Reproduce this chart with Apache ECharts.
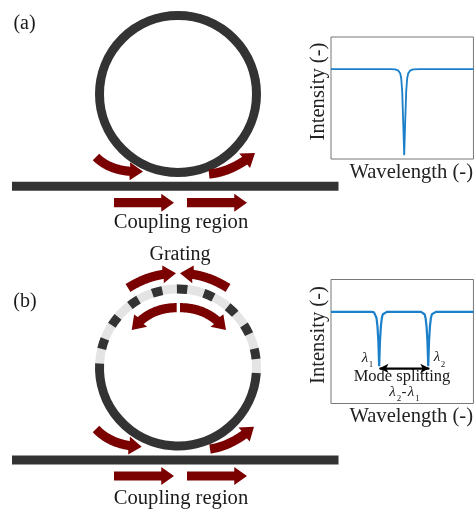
<!DOCTYPE html>
<html><head><meta charset="utf-8">
<style>html,body{margin:0;padding:0;background:#fff;overflow:hidden}#c{width:475px;height:509px}</style>
<script src="https://cdn.jsdelivr.net/npm/echarts@6/dist/echarts.min.js"></script>
</head><body><div id="c"></div>
<script>
const spectrumA = [[0,.736],[60,.736],[65,.735],[68,.725],[70,.70],[71,.66],[72,.55],[73,.30],[74,.03],[75,.30],[76,.55],[77,.66],[78,.70],[80,.725],[83,.735],[90,.736],[144,.736]];
const spectrumB = [[0,.739],[41,.739],[43.5,.735],[45,.72],[46,.69],[47,.62],[47.9,.5],[48.7,.30],[49.5,.5],[50.4,.62],[51.4,.69],[52.4,.72],[54,.735],[56.5,.739],[91,.739],[93,.735],[94.6,.72],[95.6,.69],[96.6,.62],[97.5,.5],[98.3,.30],[99.1,.5],[100,.62],[101,.69],[102,.72],[103.6,.735],[106,.739],[144,.739]];
const waveguides = [[12,338.5,186.2],[12,338.5,460]];
const rings = [
 [178,94,78.5,0,360,0],
 [178,367.5,78.5,183,364,1],
 [178,367.5,78.5,4,183,0],
 [178,367.5,78.5,346.2,353.8,0],[178,367.5,78.5,327.2,334.8,0],[178,367.5,78.5,309.2,316.8,0],
 [178,367.5,78.5,289.2,296.8,0],[178,367.5,78.5,269.2,276.8,0],[178,367.5,78.5,250.9,258.5,0],
 [178,367.5,78.5,232.2,239.8,0],[178,367.5,78.5,212.6,220.2,0],[178,367.5,78.5,193.7,201.3,0]
];
const arrows = [
 [96,157,112,173,143,171.5],[209,174,232,172,255,153],
 [114,202.7,144,202.7,174,202.7],[187,202.7,217,202.7,247,202.7],
 [96,429,112,446,141.7,446.7],[210,449,232,446,254,426.7],
 [114,476,144,476,174,476],[187,476,217,476,247,476],
 [128,288,151,273.4,176,273.3],[228,288,205,273.4,180,273.3],
 [176.7,307.7,149.4,307.5,131.7,330],[180,307.7,208,307.5,226,330]
];
const splitArrow = [[379.5,368.3],[429.3,368.3]];
const labelPos = [[24.5,24],[25,301.5],[181,222.5],[181,498.5],[180,255],[402,377],
 [365,358],[371,364.5],[437,357.5],[443,364.5],[392.5,392.5],[399,398.5],[404,392.5],[411,392.5],[417.5,398.5]];
const labelText = ['(a)','(b)','Coupling region','Coupling region','Grating','Mode splitting',
 'λ','1','λ','2','λ','2','-','λ','1'];
const labelSize = [20,20,20.6,20.6,20,16.5,15,9,15,9,15,9,15,15,9];
const labelItalic = [0,0,0,0,0,0,1,0,1,0,1,0,0,1,0];
const axisNameX = 'Wavelength (-)', axisNameY = 'Intensity (-)';
const SERIF = '"Liberation Serif","Times New Roman",serif';
const DARK='#333333', LIGHT='#e4e4e4', RED='#7b0000', BLUE='#1b7fc9', FRAME='#777777';
function arrowItem(p, api){
  const [x0,y0]=api.coord([api.value(0),api.value(1)]);
  const [cx,cy]=api.coord([api.value(2),api.value(3)]);
  const [x1,y1]=api.coord([api.value(4),api.value(5)]);
  const shaft=4.6, headLen=12.5, headW=9, pts=[];
  for(let i=0;i<=80;i++){
    const t=i/80,u=1-t;
    const x=u*u*x0+2*u*t*cx+t*t*x1, y=u*u*y0+2*u*t*cy+t*t*y1;
    if(Math.hypot(x-x1,y-y1)<headLen)break;
    pts.push([x,y]);
  }
  const L=[],R=[];
  pts.forEach((q,i)=>{
    const a=pts[Math.max(i-1,0)],b=pts[Math.min(i+1,pts.length-1)];
    const dx=b[0]-a[0],dy=b[1]-a[1],d=Math.hypot(dx,dy)||1;
    const nx=-dy/d,ny=dx/d;
    L.push([q[0]+nx*shaft,q[1]+ny*shaft]);R.push([q[0]-nx*shaft,q[1]-ny*shaft]);
  });
  const b=pts[pts.length-1],dx=x1-b[0],dy=y1-b[1],d=Math.hypot(dx,dy)||1,nx=-dy/d,ny=dx/d;
  const poly=L.concat([[b[0]+nx*headW,b[1]+ny*headW],[x1,y1],[b[0]-nx*headW,b[1]-ny*headW]],R.reverse());
  return {type:'polygon',shape:{points:poly},style:{fill:RED}};
}
function ringItem(p, api){
  const c=api.coord([api.value(0),api.value(1)]);
  const r=api.size([api.value(2),0])[0];
  const s=api.value(3)*Math.PI/180,e=api.value(4)*Math.PI/180;
  return {type:'arc',shape:{cx:c[0],cy:c[1],r:r,startAngle:s,endAngle:e,clockwise:true},
    style:{fill:null,stroke:api.value(5)?LIGHT:DARK,lineWidth:9,lineCap:'butt'}};
}
function labelItem(p, api){
  const c=api.coord([api.value(0),api.value(1)]),i=p.dataIndex;
  return {type:'text',style:{x:c[0],y:c[1],text:labelText[i],fill:'#1a1a1a',align:'center',verticalAlign:'middle',
    font:(labelItalic[i]?'italic ':'')+labelSize[i]+'px '+SERIF}};
}
function plotAxes(gi, yShift){
  return {
    x:{type:'value',gridIndex:gi,min:0,max:144,show:true,axisLine:{show:false},axisTick:{show:false},axisLabel:{show:false},splitLine:{show:false},
      name:axisNameX,nameLocation:'middle',nameGap:3,nameTextStyle:{fontFamily:SERIF,fontSize:20.6,color:'#222',padding:[0,0,0,18],verticalAlign:'top'}},
    y:{type:'value',gridIndex:gi,min:0,max:1,show:true,axisLine:{show:false},axisTick:{show:false},axisLabel:{show:false},splitLine:{show:false},
      name:axisNameY,nameLocation:'middle',nameGap:2,nameTextStyle:{fontFamily:SERIF,fontSize:20.6,color:'#222',padding:[0,0,0,yShift]}}
  };
}
const pa=plotAxes(0,13), pb=plotAxes(1,13);
const frame={show:true,backgroundColor:'transparent',borderColor:FRAME,borderWidth:1};
const overlay={xAxisIndex:2,yAxisIndex:2};
const option={
  animation:false,
  backgroundColor:'#fff',
  grid:[
    Object.assign({left:331,top:37,right:0,height:122},frame),
    Object.assign({left:331,top:279.5,right:0,height:124},frame),
    {left:0,top:0,right:0,bottom:0,show:false}
  ],
  xAxis:[pa.x,pb.x,{type:'value',gridIndex:2,min:0,max:475,show:false}],
  yAxis:[pa.y,pb.y,{type:'value',gridIndex:2,min:0,max:509,inverse:true,show:false}],
  series:[
    {type:'line',xAxisIndex:0,yAxisIndex:0,data:spectrumA,showSymbol:false,smooth:false,lineStyle:{color:BLUE,width:1.8},silent:true},
    {type:'line',xAxisIndex:1,yAxisIndex:1,data:spectrumB,showSymbol:false,smooth:false,lineStyle:{color:BLUE,width:2.2},silent:true},
    Object.assign({type:'custom',data:rings,renderItem:ringItem,encode:{x:0,y:1},silent:true,clip:false},overlay),
    ...waveguides.map(w=>Object.assign({type:'line',data:[[w[0],w[2]],[w[1],w[2]]],showSymbol:false,lineStyle:{color:DARK,width:9,cap:'butt'},silent:true},overlay)),
    Object.assign({type:'custom',data:arrows,renderItem:arrowItem,encode:{x:0,y:1},silent:true,clip:false},overlay),
    Object.assign({type:'line',data:splitArrow,showSymbol:false,silent:true,lineStyle:{color:'#000',width:1.5},
      markLine:{silent:true,symbol:['arrow','arrow'],symbolSize:[7,9],label:{show:false},lineStyle:{color:'#000',width:1.5,type:'solid'},
        data:[[{coord:splitArrow[0]},{coord:splitArrow[1]}]]}},overlay),
    Object.assign({type:'custom',data:labelPos,renderItem:labelItem,encode:{x:0,y:1},silent:true,clip:false},overlay)
  ]
};
echarts.init(document.getElementById('c'),null,{renderer:'canvas'}).setOption(option);
</script></body></html>
